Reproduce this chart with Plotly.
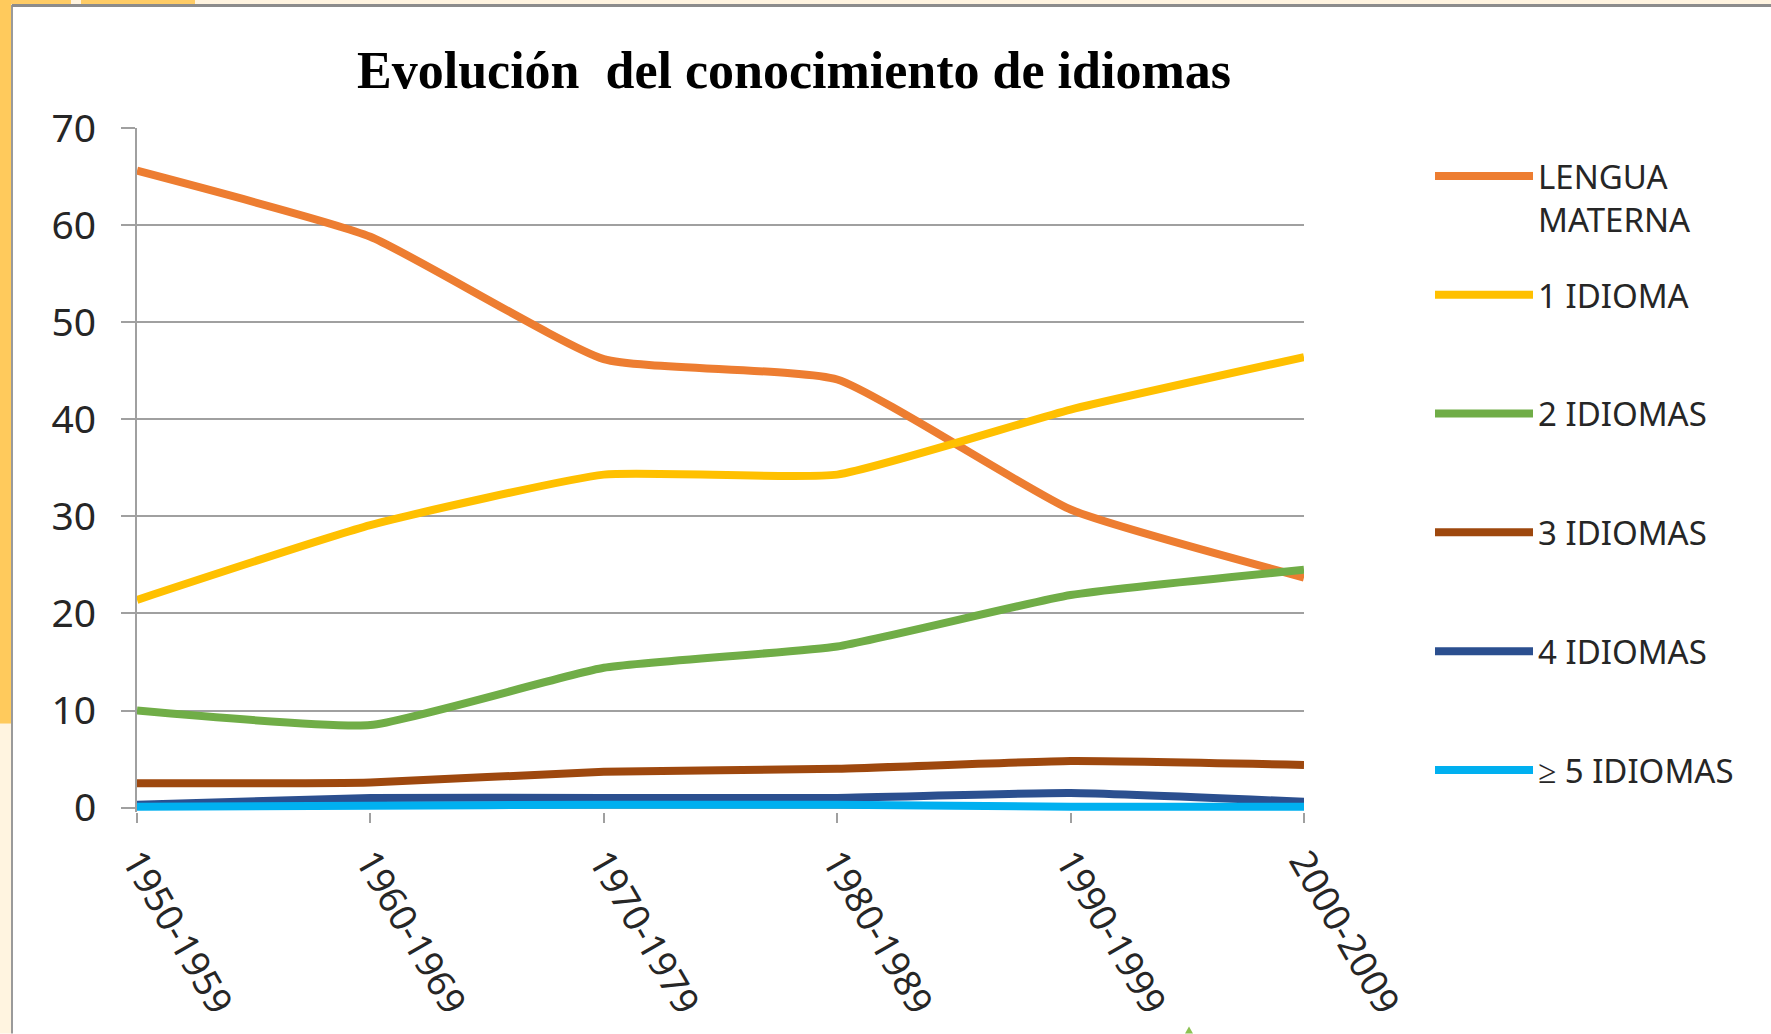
import plotly.graph_objects as go

# ---------------- data ----------------
periods = ["1950-1959", "1960-1969", "1970-1979", "1980-1989", "1990-1999", "2000-2009"]
lengua_materna = [65.6, 58.8, 46.2, 44.1, 30.7, 23.7]
un_idioma = [21.4, 29.1, 34.3, 34.3, 41.0, 46.4]
dos_idiomas = [10.0, 8.5, 14.4, 16.6, 21.9, 24.5]
tres_idiomas = [2.5, 2.6, 3.7, 4.0, 4.8, 4.4]
cuatro_idiomas = [0.3, 1.0, 1.0, 1.0, 1.5, 0.6]
cinco_o_mas = [0.1, 0.2, 0.3, 0.3, 0.1, 0.1]

series_names = ["LENGUA<br>MATERNA", "1 IDIOMA<br> ", "2 IDIOMAS<br> ", "3 IDIOMAS<br> ",
                "4 IDIOMAS<br> ", "≥ 5 IDIOMAS<br> "]
series_values = [lengua_materna, un_idioma, dos_idiomas, tres_idiomas, cuatro_idiomas, cinco_o_mas]
series_colors = ["#ED7D31", "#FFC000", "#70AD47", "#9E480E", "#2B4F8F", "#00B0F0"]

y_ticks = [0, 10, 20, 30, 40, 50, 60, 70]
y_min, y_max = -0.45, 70

W, H = 1771, 1034
L, R, T = 137, 1304, 128
B = 808 + 0.45 * (808 - 128) / 70   # plot bottom (a few px below the 0 line)


def px(x):
    return (x - L) / (R - L)


def py(y):
    return (B - y) / (B - T)


fig = go.Figure()
for i, (name, vals, col) in enumerate(zip(series_names, series_values, series_colors)):
    fig.add_trace(go.Scatter(
        x=periods, y=vals, name=name, mode="lines",
        line=dict(color=col, width=8, shape="spline", smoothing=0.45),
        legendgroup=f"g{i}",
    ))

txt = "#262626"
grid = "#A0A0A0"

shapes = [
    # top strip
    dict(type="rect", xref="paper", yref="paper", x0=px(0), x1=px(W), y0=py(0), y1=py(4.5),
         fillcolor="#FFF4E0", line=dict(width=0), layer="below"),
    dict(type="rect", xref="paper", yref="paper", x0=px(0), x1=px(71), y0=py(0), y1=py(4.5),
         fillcolor="#FFCC66", line=dict(width=0), layer="below"),
    dict(type="rect", xref="paper", yref="paper", x0=px(81), x1=px(195), y0=py(0), y1=py(4.5),
         fillcolor="#FFCC66", line=dict(width=0), layer="below"),
    # left strip
    dict(type="rect", xref="paper", yref="paper", x0=px(0), x1=px(11), y0=py(0), y1=py(724),
         fillcolor="#FFCA5C", line=dict(width=0), layer="below"),
    dict(type="rect", xref="paper", yref="paper", x0=px(0), x1=px(11), y0=py(724), y1=py(H),
         fillcolor="#FFF4E0", line=dict(width=0), layer="below"),
    # frame lines
    dict(type="line", xref="paper", yref="paper", x0=px(12), x1=px(12), y0=py(5), y1=py(H),
         line=dict(color="#9A9A9A", width=2), layer="below"),
    dict(type="line", xref="paper", yref="paper", x0=px(12), x1=px(W), y0=py(5.5), y1=py(5.5),
         line=dict(color="#8C8C8C", width=3), layer="below"),
    # small green mark at the bottom
    dict(type="path", xref="paper", yref="paper",
         path=f"M {px(1185)} {py(1034)} L {px(1189)} {py(1027)} L {px(1193)} {py(1034)} Z",
         fillcolor="#8CC152", line=dict(width=0), layer="below"),
]

fig.update_layout(
    width=W, height=H,
    margin=dict(l=L, r=W - R, t=T, b=H - B, autoexpand=False),
    paper_bgcolor="white", plot_bgcolor="white",
    title=dict(text="<b>Evolución  del conocimiento de idiomas</b>",
               x=794 / W, xref="container", xanchor="center",
               y=1 - 70 / H, yref="container", yanchor="middle",
               font=dict(family="Liberation Serif", size=52, color="black")),
    xaxis=dict(type="category", categoryorder="array", categoryarray=periods,
               range=[0, len(periods) - 1], automargin=False,
               showgrid=False, showline=False,
               ticks="outside", ticklen=10, tickwidth=2, tickcolor=grid,
               tickangle=60, ticklabelstandoff=2,
               tickfont=dict(family="Noto Sans", size=37, color=txt)),
    yaxis=dict(range=[y_min, y_max], tickvals=y_ticks, ticktext=[str(v) for v in y_ticks],
               automargin=False,
               showgrid=True, gridcolor=grid, gridwidth=2,
               zeroline=True, zerolinecolor=grid, zerolinewidth=2,
               showline=True, linecolor=grid, linewidth=2,
               ticks="outside", ticklen=14, tickwidth=2, tickcolor=grid,
               ticklabelstandoff=17,
               tickfont=dict(family="Noto Sans", size=39, color=txt)),
    legend=dict(xref="container", yref="container", x=1430 / W, y=1 - 148 / H,
                xanchor="left", yanchor="top", valign="top",
                itemwidth=98, tracegroupgap=30, traceorder="grouped",
                maxheight=1000,
                font=dict(family="Noto Sans", size=33, color=txt),
                bgcolor="rgba(0,0,0,0)"),
    shapes=shapes,
    showlegend=True,
)

fig.write_html("out.html", config={"displayModeBar": False},
               post_script="document.body.style.margin='0';")
